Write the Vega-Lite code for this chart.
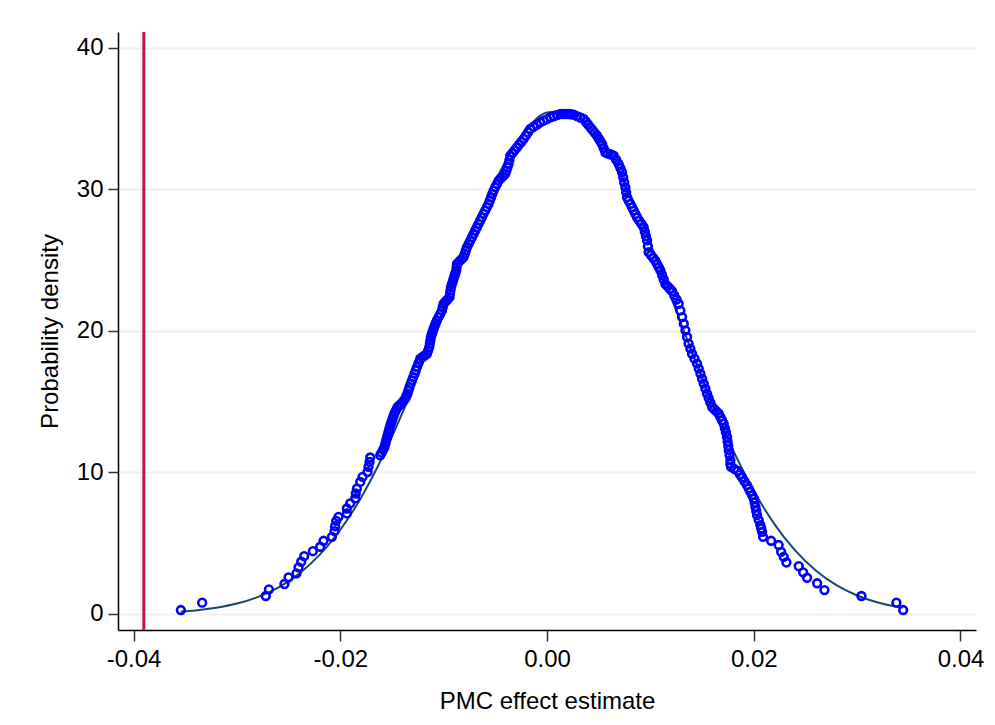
{
  "$schema": "https://vega.github.io/schema/vega-lite/v6.json",
  "width": 858,
  "height": 598,
  "autosize": {"type": "none"},
  "padding": {"left": 118, "top": 32, "right": 19, "bottom": 95},
  "background": "white",
  "config": {"view": {"stroke": null}, "font": "Liberation Sans"},
  "datasets": {
    "pts": [
      {"x":-0.03542,"y":0.28},{"x":-0.03336,"y":0.80},{"x":-0.0272,"y":1.27},{"x":-0.0269,"y":1.74},{"x":-0.0254,"y":2.12},{"x":-0.0250,"y":2.59},{"x":-0.02423,"y":2.87},{"x":-0.02404,"y":3.29},{"x":-0.02378,"y":3.69},{"x":-0.02349,"y":4.09},{"x":-0.02265,"y":4.44},{"x":-0.02194,"y":4.75},{"x":-0.02162,"y":5.17},{"x":-0.02081,"y":5.45},{"x":-0.02055,"y":5.85},{"x":-0.0205,"y":6.2},{"x":-0.02039,"y":6.58},{"x":-0.02017,"y":6.86},{"x":-0.01936,"y":7.10},{"x":-0.01936,"y":7.45},{"x":-0.01904,"y":7.81},{"x":-0.01855,"y":8.16},{"x":-0.0185,"y":8.51},{"x":-0.01839,"y":8.86},{"x":-0.01807,"y":9.33},{"x":-0.01785,"y":9.68},{"x":-0.01736,"y":10.03},{"x":-0.01727,"y":10.39},{"x":-0.01717,"y":10.74},{"x":-0.0171,"y":11.05},
      {"x":-0.01613,"y":11.21},{"x":-0.016,"y":11.4},{"x":-0.01585,"y":11.6},{"x":-0.01572,"y":11.8},{"x":-0.01565,"y":12.0},{"x":-0.01558,"y":12.2},{"x":-0.0155,"y":12.4},{"x":-0.01542,"y":12.6},{"x":-0.01535,"y":12.8},{"x":-0.01528,"y":13.0},{"x":-0.0152,"y":13.2},{"x":-0.01512,"y":13.4},{"x":-0.01502,"y":13.6},{"x":-0.01494,"y":13.8},{"x":-0.01484,"y":14.0},{"x":-0.01474,"y":14.2},{"x":-0.0146,"y":14.4},{"x":-0.01446,"y":14.6},{"x":-0.0143,"y":14.72},{"x":-0.0141,"y":14.85},
      {"x":-0.0139,"y":15.03},{"x":-0.01371,"y":15.21},{"x":-0.0136,"y":15.4},{"x":-0.0135,"y":15.56},{"x":-0.0134,"y":15.8},{"x":-0.0133,"y":16.03},{"x":-0.01318,"y":16.27},{"x":-0.01306,"y":16.5},{"x":-0.01294,"y":16.73},{"x":-0.01281,"y":16.97},{"x":-0.0127,"y":17.2},{"x":-0.01258,"y":17.44},{"x":-0.01242,"y":17.74},{"x":-0.01226,"y":18.03},{"x":-0.01204,"y":18.15},{"x":-0.01183,"y":18.26},{"x":-0.01161,"y":18.38},{"x":-0.0115,"y":18.6},{"x":-0.01139,"y":18.85},{"x":-0.01133,"y":19.1},{"x":-0.01128,"y":19.33},{"x":-0.01123,"y":19.56},{"x":-0.01114,"y":19.76},{"x":-0.01106,"y":19.95},{"x":-0.01097,"y":20.15},{"x":-0.01086,"y":20.35},{"x":-0.01076,"y":20.54},{"x":-0.01065,"y":20.73},{"x":-0.01049,"y":20.97},{"x":-0.01032,"y":21.2},{"x":-0.01016,"y":21.44},{"x":-0.01008,"y":21.68},{"x":-0.01,"y":21.91},{"x":-0.00981,"y":22.07},{"x":-0.00962,"y":22.22},{"x":-0.00943,"y":22.38},{"x":-0.00938,"y":22.62},{"x":-0.00934,"y":22.85},{"x":-0.00929,"y":23.08},{"x":-0.00921,"y":23.28},{"x":-0.00912,"y":23.47},{"x":-0.00904,"y":23.67},{"x":-0.00895,"y":23.87},{"x":-0.00887,"y":24.06},{"x":-0.00878,"y":24.26},{"x":-0.00874,"y":24.5},{"x":-0.00871,"y":24.73},{"x":-0.0085,"y":24.89},{"x":-0.00828,"y":25.04},{"x":-0.00807,"y":25.2},{"x":-0.00796,"y":25.43},{"x":-0.00785,"y":25.67},{"x":-0.00774,"y":25.9},{"x":-0.00758,"y":26.14},{"x":-0.00742,"y":26.37},{"x":-0.00726,"y":26.61},{"x":-0.0071,"y":26.84},{"x":-0.00694,"y":27.08},{"x":-0.00678,"y":27.31},{"x":-0.00662,"y":27.55},{"x":-0.00646,"y":27.79},{"x":-0.0063,"y":28.02},{"x":-0.00614,"y":28.26},{"x":-0.00598,"y":28.49},{"x":-0.00581,"y":28.73},{"x":-0.00565,"y":28.96},{"x":-0.00553,"y":29.2},{"x":-0.00541,"y":29.43},{"x":-0.00529,"y":29.67},{"x":-0.00517,"y":29.9},{"x":-0.00501,"y":30.14},{"x":-0.00484,"y":30.37},{"x":-0.00468,"y":30.61},{"x":-0.00447,"y":30.77},{"x":-0.00425,"y":30.92},{"x":-0.00404,"y":31.08},{"x":-0.00393,"y":31.31},{"x":-0.00383,"y":31.55},{"x":-0.00372,"y":31.78},{"x":-0.00363,"y":32.07},{"x":-0.00355,"y":32.37},{"x":-0.00333,"y":32.57},{"x":-0.00312,"y":32.76},{"x":-0.0029,"y":32.96},{"x":-0.00269,"y":33.16},{"x":-0.00247,"y":33.35},{"x":-0.00226,"y":33.55},{"x":-0.00205,"y":33.78},{"x":-0.00183,"y":34.02},{"x":-0.00162,"y":34.25},{"x":-0.0013,"y":34.41},{"x":-0.00097,"y":34.56},{"x":-0.00065,"y":34.72},{"x":-0.00033,"y":34.84},{"x":0.0,"y":34.95},{"x":0.00032,"y":35.07},{"x":0.00064,"y":35.15},{"x":0.00097,"y":35.23},{"x":0.00129,"y":35.31},{"x":0.00155,"y":35.31},{"x":0.00182,"y":35.31},{"x":0.00209,"y":35.31},{"x":0.00233,"y":35.29},{"x":0.00257,"y":35.26},{"x":0.0029,"y":35.16},{"x":0.00322,"y":35.06},{"x":0.00354,"y":34.96},{"x":0.00376,"y":34.76},{"x":0.00397,"y":34.57},{"x":0.00419,"y":34.37},{"x":0.00441,"y":34.17},{"x":0.00462,"y":33.98},{"x":0.00484,"y":33.78},{"x":0.005,"y":33.58},{"x":0.00516,"y":33.39},{"x":0.00532,"y":33.19},{"x":0.00548,"y":32.9},{"x":0.00564,"y":32.6},{"x":0.00591,"y":32.52},{"x":0.00618,"y":32.45},{"x":0.00645,"y":32.37},{"x":0.00669,"y":32.08},{"x":0.00693,"y":31.78},{"x":0.0071,"y":31.49},{"x":0.00726,"y":31.19},{"x":0.00737,"y":30.84},{"x":0.00747,"y":30.48},{"x":0.00758,"y":30.13},{"x":0.00766,"y":29.78},{"x":0.00774,"y":29.43},{"x":0.0079,"y":29.19},{"x":0.00807,"y":28.96},{"x":0.00823,"y":28.72},{"x":0.00839,"y":28.49},{"x":0.00855,"y":28.25},{"x":0.00871,"y":28.02},{"x":0.00892,"y":27.78},{"x":0.00914,"y":27.55},{"x":0.00935,"y":27.31},{"x":0.00946,"y":27.0},{"x":0.00957,"y":26.69},{"x":0.00968,"y":26.38},{"x":0.00976,"y":25.97},{"x":0.00983,"y":25.55},{"x":0.01005,"y":25.35},{"x":0.01026,"y":25.16},{"x":0.01048,"y":24.96},{"x":0.01064,"y":24.73},{"x":0.01081,"y":24.49},{"x":0.01097,"y":24.26},{"x":0.01113,"y":23.94},{"x":0.01129,"y":23.62},{"x":0.01145,"y":23.3},{"x":0.01167,"y":23.13},{"x":0.01188,"y":22.97},{"x":0.0121,"y":22.8},{"x":0.01231,"y":22.5},{"x":0.01253,"y":22.21},{"x":0.01274,"y":21.91},{"x":0.0129,"y":21.44},{"x":0.01307,"y":20.97},{"x":0.01323,"y":20.5},{"x":0.01339,"y":20.03},{"x":0.01355,"y":19.56},{"x":0.0137,"y":19.09},{"x":0.01387,"y":18.74},{"x":0.01403,"y":18.38},{"x":0.01427,"y":18.03},{"x":0.01452,"y":17.68},{"x":0.01468,"y":17.33},{"x":0.01484,"y":16.97},{"x":0.015,"y":16.62},{"x":0.01516,"y":16.27},{"x":0.01532,"y":15.92},{"x":0.01548,"y":15.56},{"x":0.01564,"y":15.25},{"x":0.0158,"y":14.93},{"x":0.01597,"y":14.62},{"x":0.01618,"y":14.46},{"x":0.0164,"y":14.31},{"x":0.01661,"y":14.15},{"x":0.01677,"y":13.92},{"x":0.01693,"y":13.68},{"x":0.01709,"y":13.45},{"x":0.0172,"y":13.13},{"x":0.01731,"y":12.82},{"x":0.01742,"y":12.5},{"x":0.01747,"y":12.19},{"x":0.01753,"y":11.88},{"x":0.01758,"y":11.57},{"x":0.01766,"y":11.22},{"x":0.01774,"y":10.86},{"x":0.01774,"y":10.6},{"x":0.0178,"y":10.39},
      {"x":0.01812,"y":10.25},{"x":0.01845,"y":10.11},{"x":0.01866,"y":9.87},{"x":0.01887,"y":9.64},{"x":0.0191,"y":9.37},{"x":0.01935,"y":9.1},{"x":0.01951,"y":8.86},{"x":0.01967,"y":8.63},{"x":0.01984,"y":8.4},{"x":0.02,"y":8.16},{"x":0.02008,"y":7.87},{"x":0.02016,"y":7.57},{"x":0.02024,"y":7.28},{"x":0.02032,"y":6.98},{"x":0.02048,"y":6.63},{"x":0.02064,"y":6.28},{"x":0.02072,"y":6.04},{"x":0.02081,"y":5.8},{"x":0.0209,"y":5.45},
      {"x":0.02168,"y":5.17},{"x":0.02241,"y":4.87},{"x":0.02265,"y":4.39},{"x":0.0229,"y":4.04},{"x":0.02316,"y":3.64},{"x":0.02435,"y":3.38},{"x":0.02478,"y":2.94},{"x":0.02516,"y":2.56},{"x":0.02613,"y":2.17},{"x":0.02684,"y":1.69},{"x":0.03042,"y":1.27},{"x":0.0338,"y":0.80},{"x":0.03445,"y":0.28}
    ],
    "normal": [
      {"x":-0.0354,"y":0.171},{"x":-0.034,"y":0.255},{"x":-0.032,"y":0.441},{"x":-0.030,"y":0.736},{"x":-0.028,"y":1.190},{"x":-0.026,"y":1.866},{"x":-0.024,"y":2.835},{"x":-0.022,"y":4.171},{"x":-0.020,"y":5.94},{"x":-0.018,"y":8.20},{"x":-0.016,"y":10.96},{"x":-0.014,"y":14.18},{"x":-0.012,"y":17.79},{"x":-0.010,"y":21.60},{"x":-0.008,"y":25.42},{"x":-0.006,"y":28.97},{"x":-0.004,"y":31.98},{"x":-0.002,"y":34.20},{"x":0.0,"y":35.42},{"x":0.002,"y":35.53},{"x":0.004,"y":34.52},{"x":0.006,"y":32.50},{"x":0.008,"y":29.63},{"x":0.010,"y":26.16},{"x":0.012,"y":22.38},{"x":0.014,"y":18.54},{"x":0.016,"y":14.88},{"x":0.018,"y":11.57},{"x":0.020,"y":8.71},{"x":0.022,"y":6.35},{"x":0.024,"y":4.49},{"x":0.026,"y":3.07},{"x":0.028,"y":2.034},{"x":0.030,"y":1.306},{"x":0.032,"y":0.812},{"x":0.034,"y":0.489},{"x":0.0344,"y":0.441}
    ]
  },
  "encoding": {
    "x": {
      "field": "x", "type": "quantitative",
      "scale": {"domain": [-0.0415, 0.0415], "nice": false, "zero": false},
      "axis": {
        "title": "PMC effect estimate",
        "values": [-0.04, -0.02, 0, 0.02, 0.04],
        "labelExpr": "datum.value < 0 ? '-' + format(-datum.value, '.2f') : format(datum.value, '.2f')",
        "grid": false,
        "tickSize": 11, "tickWidth": 1.5, "tickColor": "#333333",
        "domainColor": "#000000", "domainWidth": 1.5,
        "labelFontSize": 24, "labelColor": "#000000", "labelPadding": 6,
        "titleFontSize": 24, "titleFontWeight": "normal", "titleColor": "#000000", "titlePadding": 18
      }
    },
    "y": {
      "field": "y", "type": "quantitative",
      "scale": {"domain": [-1.13, 41.1], "nice": false, "zero": false},
      "axis": {
        "title": "Probability density",
        "values": [0, 10, 20, 30, 40],
        "grid": true, "gridColor": "#eaf2f3", "gridWidth": 2,
        "tickSize": 10, "tickWidth": 1.5, "tickColor": "#333333",
        "domainColor": "#000000", "domainWidth": 1.5,
        "labelFontSize": 24, "labelColor": "#000000", "labelPadding": 5,
        "titleFontSize": 24, "titleFontWeight": "normal", "titleColor": "#000000", "titlePadding": 14
      }
    }
  },
  "layer": [
    {
      "data": {"name": "normal"},
      "mark": {"type": "line", "color": "#1a476f", "strokeWidth": 2, "interpolate": "monotone"}
    },
    {
      "data": {"name": "pts"},
      "mark": {"type": "point", "shape": "circle", "filled": false, "color": "#0000ff", "strokeWidth": 2.6, "size": 60, "opacity": 1}
    },
    {
      "data": {"values": [{"v": -0.039}]},
      "mark": {"type": "rule", "color": "#c8143c", "strokeWidth": 3},
      "encoding": {"x": {"field": "v", "type": "quantitative"}, "y": null}
    }
  ]
}
